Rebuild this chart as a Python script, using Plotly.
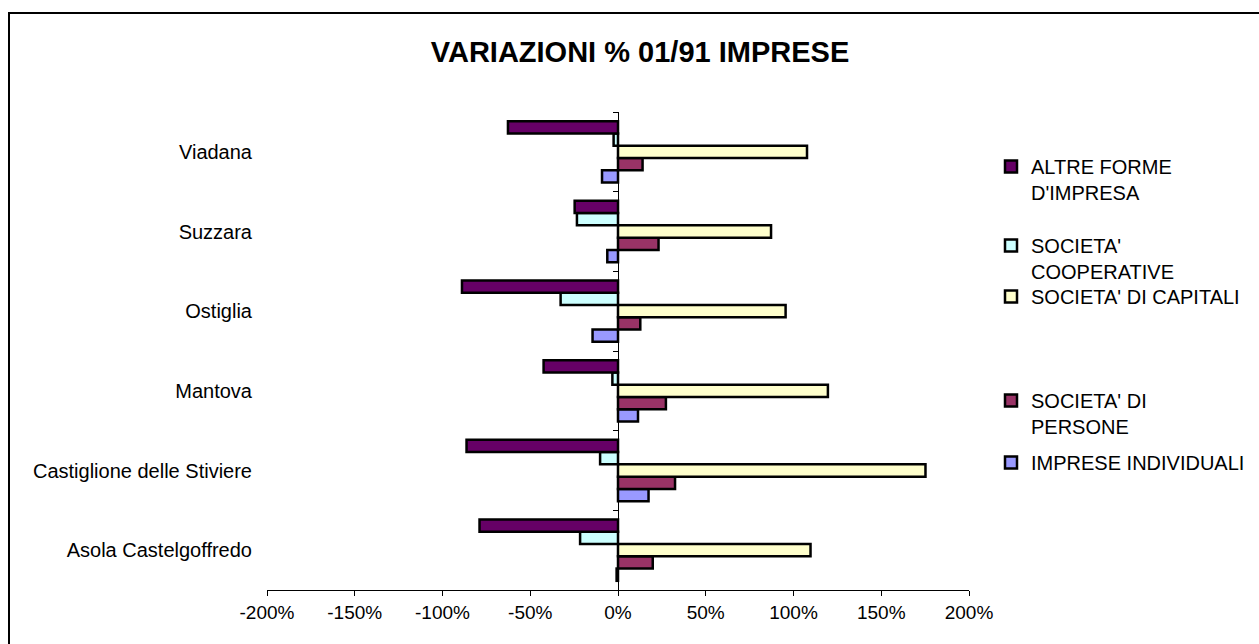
import plotly.graph_objects as go

# ---- data ----
comuni = ["Asola Castelgoffredo", "Castiglione delle Stiviere", "Mantova",
          "Ostiglia", "Suzzara", "Viadana"]
imprese_individuali = [-0.8, 17.4, 11.4, -14.5, -6.1, -9.1]
societa_persone = [19.8, 32.5, 27.3, 12.7, 23.1, 14.0]
societa_capitali = [109.7, 175.2, 119.6, 95.5, 87.2, 107.7]
societa_cooperative = [-21.6, -10.2, -3.2, -32.7, -23.4, -2.5]
altre_forme = [-78.9, -86.3, -42.4, -88.9, -24.7, -62.7]

x_tickvals = [-200, -150, -100, -50, 0, 50, 100, 150, 200]
x_ticktext = ["-200%", "-150%", "-100%", "-50%", "0%", "50%", "100%", "150%", "200%"]

series = [
    ("IMPRESE INDIVIDUALI", imprese_individuali, "#9999FF", "legend5"),
    ("SOCIETA' DI<br>PERSONE", societa_persone, "#993366", "legend4"),
    ("SOCIETA' DI CAPITALI", societa_capitali, "#FFFFCC", "legend3"),
    ("SOCIETA'<br>COOPERATIVE", societa_cooperative, "#CCFFFF", "legend2"),
    ("ALTRE FORME<br>D'IMPRESA", altre_forme, "#660066", "legend"),
]

FONT = "Arial, 'Liberation Sans', sans-serif"
W, H = 1259, 644
L, R, T, B = 267, 969, 112, 590  # plot area pixels


def px_x(p):
    return (p - L) / (R - L)


def px_y(p):
    return (B - p) / (B - T)


fig = go.Figure()
for name, vals, color, leg in series:
    fig.add_trace(go.Bar(
        y=comuni, x=vals, name=name, orientation="h",
        marker=dict(color=color, line=dict(color="black", width=2.5)),
        legend=leg,
    ))

# helper trace carrying the category axis drawn at 0%
fig.add_trace(go.Scatter(
    x=[0] * len(comuni), y=comuni, yaxis="y2", mode="markers",
    marker=dict(opacity=0), showlegend=False, hoverinfo="skip",
))

legend_common = dict(
    xanchor="left", yanchor="top", bgcolor="rgba(0,0,0,0)",
    font=dict(family=FONT, size=20, color="black"), valign="top",
    itemclick=False, itemdoubleclick=False,
)
legend_tops = {"legend": 147, "legend2": 226, "legend3": 277,
               "legend4": 381, "legend5": 443}
legends = {k: dict(x=px_x(991), y=px_y(v), **legend_common) for k, v in legend_tops.items()}

fig.update_layout(
    width=W, height=H,
    margin=dict(l=L, r=W - R, t=T, b=H - B, autoexpand=False),
    paper_bgcolor="white", plot_bgcolor="white",
    barmode="group", bargap=0.2308, bargroupgap=0,
    font=dict(family=FONT, size=20, color="black"),
    title=dict(text="<b>VARIAZIONI % 01/91 IMPRESE</b>", x=px_x(640), xanchor="center",
               xref="paper", y=1 - 52 / H, yanchor="middle",
               font=dict(family=FONT, size=29, color="black")),
    xaxis=dict(range=[-200, 200], tickvals=x_tickvals, ticktext=x_ticktext,
               showline=True, linecolor="black", linewidth=1,
               ticks="outside", ticklen=5, tickcolor="black",
               showgrid=False, zeroline=False, fixedrange=True,
               tickfont=dict(size=19)),
    yaxis=dict(type="category", categoryorder="array", categoryarray=comuni,
               range=[-0.5, 5.5], showline=False, ticks="", showgrid=False,
               ticklabelstandoff=14, fixedrange=True, tickfont=dict(size=20)),
    yaxis2=dict(type="category", categoryorder="array", categoryarray=comuni,
                range=[-0.5, 5.5], overlaying="y", anchor="free", position=0.5,
                side="left", showline=True, linecolor="black", linewidth=1,
                ticks="outside", ticklen=5, tickcolor="black", tickson="boundaries",
                showticklabels=False, showgrid=False, fixedrange=True),
    shapes=[dict(type="rect", xref="paper", yref="paper",
                 x0=px_x(9), x1=px_x(1264), y0=px_y(650), y1=px_y(13),
                 line=dict(color="black", width=2), fillcolor="rgba(0,0,0,0)",
                 layer="below")],
    **legends,
)

fig.write_html("out.html", config={"displayModeBar": False},
               post_script="document.body.style.margin='0';document.body.style.overflow='hidden';")
